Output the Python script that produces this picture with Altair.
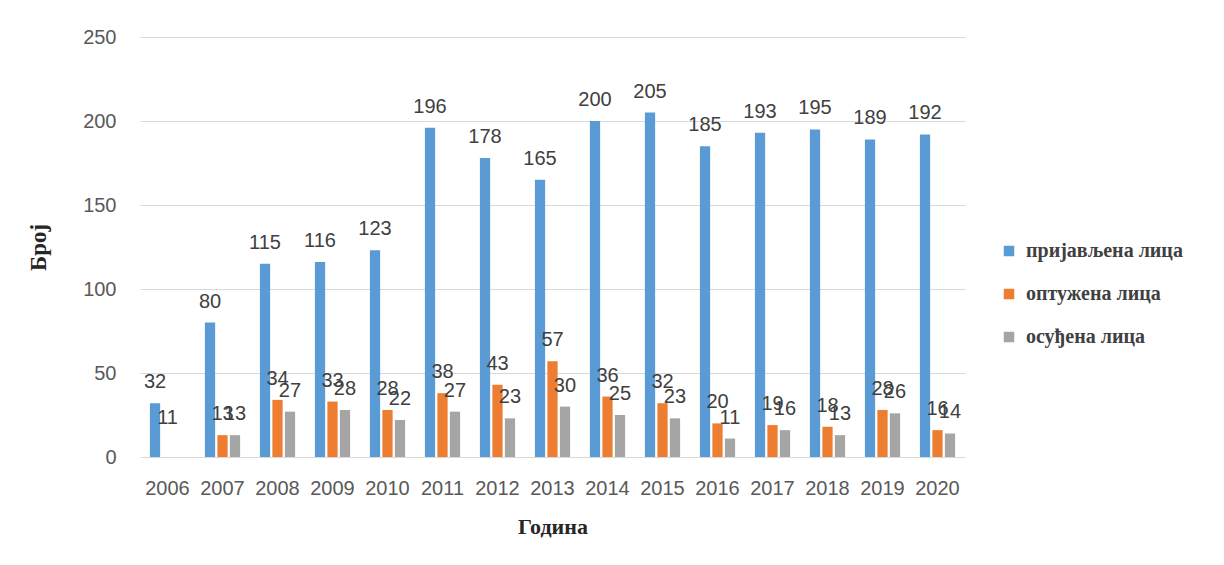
import altair as alt
import pandas as pd

years = ["2006", "2007", "2008", "2009", "2010", "2011", "2012", "2013", "2014",
         "2015", "2016", "2017", "2018", "2019", "2020"]
series = ["пријављена лица", "оптужена лица", "осуђена лица"]
reported = [32, 80, 115, 116, 123, 196, 178, 165, 200, 205, 185, 193, 195, 189, 192]
accused = [0, 13, 34, 33, 28, 38, 43, 57, 36, 32, 20, 19, 18, 28, 16]
convicted = [0, 13, 27, 28, 22, 27, 23, 30, 25, 23, 11, 16, 13, 26, 14]
accused_labels = ["11", "13", "34", "33", "28", "38", "43", "57", "36", "32", "20", "19", "18", "28", "16"]
convicted_labels = ["", "13", "27", "28", "22", "27", "23", "30", "25", "23", "11", "16", "13", "26", "14"]
accused_label_pos = [11] + accused[1:]
colors = ["#5B9BD5", "#ED7D31", "#A5A5A5"]

rows = []
for i, y in enumerate(years):
    rows.append({"year": y, "s": series[0], "v": reported[i], "lab": str(reported[i]), "lv": reported[i]})
    rows.append({"year": y, "s": series[1], "v": accused[i], "lab": accused_labels[i], "lv": accused_label_pos[i]})
    rows.append({"year": y, "s": series[2], "v": convicted[i], "lab": convicted_labels[i], "lv": convicted[i]})
df = pd.DataFrame(rows)

x = alt.X("year:N", sort=years, scale=alt.Scale(paddingInner=0.36, paddingOuter=0.18),
          axis=alt.Axis(title="Година", labelAngle=0, labelFont="Liberation Sans", labelFontSize=20,
                        labelColor="#595959", labelPadding=21, ticks=False, domain=False,
                        titleFont="Liberation Serif", titleFontSize=22, titleFontWeight="bold",
                        titleColor="#262626", titlePadding=18))
xo = alt.XOffset("s:N", sort=series, scale=alt.Scale(paddingInner=0.18))
ysc = alt.Scale(domain=[0, 250])

bars = alt.Chart(df).mark_bar().encode(
    x=x, xOffset=xo,
    y=alt.Y("v:Q", scale=ysc,
            axis=alt.Axis(title="Број", values=[0, 50, 100, 150, 200, 250], labelFont="Liberation Sans",
                          labelFontSize=20, labelColor="#595959", labelPadding=24, ticks=False,
                          domain=False, gridColor="#d9d9d9", titleFont="Liberation Serif",
                          titleFontSize=23, titleFontWeight="bold", titleColor="#262626",
                          titlePadding=32)),
    color=alt.Color("s:N", sort=series, scale=alt.Scale(domain=series, range=colors),
                    legend=alt.Legend(title=None, orient="none", legendX=859, legendY=204,
                                      symbolType="square", symbolSize=110, symbolStrokeWidth=0,
                                      labelFont="Liberation Serif", labelFontSize=20,
                                      labelFontWeight="bold", labelColor="#404040",
                                      labelLimit=400, rowPadding=23, labelOffset=7)),
)

labels = alt.Chart(df).mark_text(baseline="bottom", dy=-11, font="Liberation Sans", fontSize=20,
                                  color="#404040").encode(
    x=alt.X("year:N", sort=years), xOffset=alt.XOffset("s:N", sort=series),
    y=alt.Y("lv:Q", scale=ysc), text="lab:N")

chart = alt.layer(bars, labels).properties(
    width=825, height=420,
    background="white",
    autosize=alt.AutoSizeParams(type="none"),
    padding={"left": 132, "top": 29, "right": 250, "bottom": 100},
).configure_view(stroke=None)

chart.save("out.html", embed_options={"renderer": "svg", "actions": False})
